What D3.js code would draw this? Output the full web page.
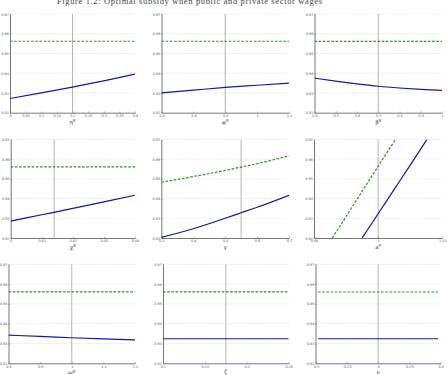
<!DOCTYPE html>
<html>
<head>
<meta charset="utf-8">
<script src="https://cdn.jsdelivr.net/npm/d3@7"></script>
<style>
  body { margin: 0; background: #fff; }
  svg { display: block; }
  .tick text { fill: #555; }
</style>
</head>
<body>
<div id="chart"></div>
<script>
// Canvas size
const width = 448;
const height = 375;

// Shared y axis
const yDomain = [0.92, 0.97];
const yTicks = [0.92, 0.93, 0.94, 0.95, 0.96, 0.97];

// Panel 1: eta^g
const etaX = [0, 0.1, 0.2, 0.3, 0.4];
const etaBlue = [0.9272, 0.9300, 0.9330, 0.9361, 0.9395];
const etaGreen = [0.9562, 0.9562, 0.9562, 0.9562, 0.9562];
const etaTicks = [0, 0.05, 0.1, 0.15, 0.2, 0.25, 0.3, 0.35, 0.4];

// Panel 2: phi^g
const phiX = [0.4, 0.6, 0.8, 1.0, 1.2];
const phiBlue = [0.9300, 0.9314, 0.9328, 0.9339, 0.9350];
const phiGreen = [0.9562, 0.9562, 0.9562, 0.9562, 0.9562];
const phiTicks = [0.4, 0.6, 0.8, 1, 1.2];

// Panel 3: beta^g
const betaX = [0.4, 0.5, 0.6, 0.7, 0.8, 0.9, 1.0];
const betaBlue = [0.9375, 0.9360, 0.9346, 0.9334, 0.9325, 0.9318, 0.9313];
const betaGreen = [0.9561, 0.9561, 0.9561, 0.9561, 0.9561, 0.9561, 0.9561];
const betaTicks = [0.4, 0.5, 0.6, 0.7, 0.8, 0.9, 1];

// Panel 4: chi^g
const chiX = [0, 0.01, 0.02, 0.03, 0.04];
const chiBlue = [0.9286, 0.9318, 0.9350, 0.9383, 0.9417];
const chiGreen = [0.9561, 0.9561, 0.9561, 0.9561, 0.9561];
const chiTicks = [0, 0.01, 0.02, 0.03, 0.04];

// Panel 5: gamma
const gammaX = [0.3, 0.4, 0.5, 0.55, 0.6, 0.7];
const gammaBlue = [0.9203, 0.9247, 0.9300, 0.9328, 0.9356, 0.9417];
const gammaGreen = [0.9483, 0.9512, 0.9543, 0.9560, 0.9577, 0.9618];
const gammaTicks = [0.3, 0.4, 0.5, 0.6, 0.7];

// Panel 6: a^p
const apBlueX = [0.995, 1.000, 1.005, 1.010, 1.0152];
const apBlue = [0.9200, 0.9323, 0.9447, 0.9570, 0.9700];
const apGreenX = [0.9857, 0.990, 0.995, 1.000, 1.0054];
const apGreen = [0.9200, 0.9309, 0.9437, 0.9564, 0.9700];
const apTicks = [0.98, 1, 1.02];

// Panel 7: omega^g
const omegaX = [0.8, 0.9, 1.0, 1.1, 1.2];
const omegaBlue = [0.9342, 0.9336, 0.9329, 0.9323, 0.9318];
const omegaGreen = [0.9561, 0.9561, 0.9561, 0.9561, 0.9561];
const omegaTicks = [0.8, 0.9, 1, 1.1, 1.2];

// Panel 8: zeta
const zetaX = [0.1, 0.175, 0.25];
const zetaBlue = [0.9324, 0.9324, 0.9324];
const zetaGreen = [0.9561, 0.9561, 0.9561];
const zetaTicks = [0.1, 0.15, 0.2, 0.25];

// Panel 9: nu
const nuX = [-0.48, 0, 0.48];
const nuBlue = [0.9324, 0.9324, 0.9324];
const nuGreen = [0.9560, 0.9560, 0.9560];
const nuTicks = [-0.5, -0.25, 0, 0.25, 0.5];

// panel table (layout + data references)
const panels = [
  {sym: "η", sup: "g", xd: [0, 0.4], ticks: etaTicks, base: 0.2, bx: etaX, by: etaBlue, gx: etaX, gy: etaGreen,
   box: [10, 14, 135, 112.7], ly: 123.5},
  {sym: "φ", sup: "g", xd: [0.4, 1.2], ticks: phiTicks, base: 0.8, bx: phiX, by: phiBlue, gx: phiX, gy: phiGreen,
   box: [161.5, 14, 289, 112.7], ly: 123.5},
  {sym: "β", sup: "g", xd: [0.4, 1], ticks: betaTicks, base: 0.7, bx: betaX, by: betaBlue, gx: betaX, gy: betaGreen,
   box: [314.5, 14, 442, 112.7], ly: 123.5},
  {sym: "χ", sup: "g", xd: [0, 0.04], ticks: chiTicks, base: 0.014, bx: chiX, by: chiBlue, gx: chiX, gy: chiGreen,
   box: [10.7, 139.5, 135, 238], ly: 248.5},
  {sym: "γ", sup: "", xd: [0.3, 0.7], ticks: gammaTicks, base: 0.55, bx: gammaX, by: gammaBlue, gx: gammaX, gy: gammaGreen,
   box: [161.3, 139.5, 289, 238], ly: 248.5},
  {sym: "a", sup: "p", xd: [0.98, 1.02], ticks: apTicks, base: 1, bx: apBlueX, by: apBlue, gx: apGreenX, gy: apGreen,
   box: [314, 139.5, 442.3, 238], ly: 248.5},
  {sym: "ω", sup: "g", xd: [0.8, 1.2], ticks: omegaTicks, base: 1, bx: omegaX, by: omegaBlue, gx: omegaX, gy: omegaGreen,
   box: [8.5, 264.3, 135, 363.3], ly: 374},
  {sym: "ζ", sup: "", xd: [0.1, 0.25], ticks: zetaTicks, base: 0.175, bx: zetaX, by: zetaBlue, gx: zetaX, gy: zetaGreen,
   box: [163, 264.3, 288.7, 363.3], ly: 374},
  {sym: "ν", sup: "", xd: [-0.5, 0.5], ticks: nuTicks, base: 0, bx: nuX, by: nuBlue, gx: nuX, gy: nuGreen,
   box: [315.5, 264.3, 440.7, 363.3], ly: 374}
];

const svg = d3.select("#chart")
  .append("svg")
  .attr("width", width)
  .attr("height", height);

// title (cut off at the top in the reference)
svg.append("text")
  .attr("x", 57)
  .attr("y", 3.5)
  .attr("font-family", "Liberation Serif")
  .attr("font-size", 8.5)
  .attr("fill", "#444")
  .attr("textLength", 265)
  .text("Figure 1.2: Optimal subsidy when public and private sector wages");

const fmt = d => String(d);

panels.forEach((p, i) => {
  const [x0, y0, x1, y1] = p.box;
  const x = d3.scaleLinear().domain(p.xd).range([x0, x1]);
  const y = d3.scaleLinear().domain(yDomain).range([y1, y0]);
  const g = svg.append("g");

  // clip
  svg.append("clipPath").attr("id", "clip" + i)
    .append("rect").attr("x", x0).attr("y", y0).attr("width", x1 - x0).attr("height", y1 - y0);

  // dotted grid
  g.selectAll(".grid")
    .data(yTicks.slice(1))
    .enter().append("line")
      .attr("x1", x0).attr("x2", x1)
      .attr("y1", d => y(d)).attr("y2", d => y(d))
      .attr("stroke", "#c8c8c8")
      .attr("stroke-width", 0.6)
      .attr("stroke-dasharray", "1,1.5");

  // baseline vertical line
  g.append("line")
    .attr("x1", x(p.base)).attr("x2", x(p.base))
    .attr("y1", y0).attr("y2", y1)
    .attr("stroke", "#b4b4b4")
    .attr("stroke-width", 1);

  // axes
  const ya = g.append("g")
    .attr("transform", `translate(${x0},0)`)
    .call(d3.axisLeft(y).tickValues(yTicks).tickFormat(d3.format(".2f")).tickSizeInner(-1.2).tickSizeOuter(0).tickPadding(1.2));
  const xa = g.append("g")
    .attr("transform", `translate(0,${y1})`)
    .call(d3.axisBottom(x).tickValues(p.ticks).tickFormat(fmt).tickSizeInner(-1.2).tickSizeOuter(0).tickPadding(2));
  [ya, xa].forEach(a => {
    a.selectAll("path").attr("stroke", "#555").attr("stroke-width", 0.8);
    a.selectAll("line").attr("stroke", "#555").attr("stroke-width", 0.5);
    a.selectAll("text").attr("font-size", 3.4).attr("font-family", "DejaVu Sans").attr("fill", "#666");
  });

  const line = d3.line().x(d => x(d[0])).y(d => y(d[1]));
  const lines = g.append("g").attr("clip-path", `url(#clip${i})`);

  // green dashed series
  lines.append("path")
    .datum(p.gx.map((v, k) => [v, p.gy[k]]))
    .attr("d", line.curve(d3.curveMonotoneX))
    .attr("fill", "none")
    .attr("stroke", "#2f8f2f")
    .attr("stroke-width", 1.2)
    .attr("stroke-dasharray", "2.6,1.6");

  // blue solid series
  lines.append("path")
    .datum(p.bx.map((v, k) => [v, p.by[k]]))
    .attr("d", line.curve(d3.curveMonotoneX))
    .attr("fill", "none")
    .attr("stroke", "#1414b4")
    .attr("stroke-width", 1.2);

  // x label
  const lab = svg.append("text")
    .attr("x", (x0 + x1) / 2)
    .attr("y", p.ly)
    .attr("text-anchor", "middle")
    .attr("font-family", "DejaVu Serif")
    .attr("font-size", 5.5)
    .attr("fill", "#333");
  lab.append("tspan").text(p.sym);
  if (p.sup) {
    lab.append("tspan").attr("dy", -2.2).attr("font-size", 4).text(p.sup);
  }
});
</script>
</body>
</html>
